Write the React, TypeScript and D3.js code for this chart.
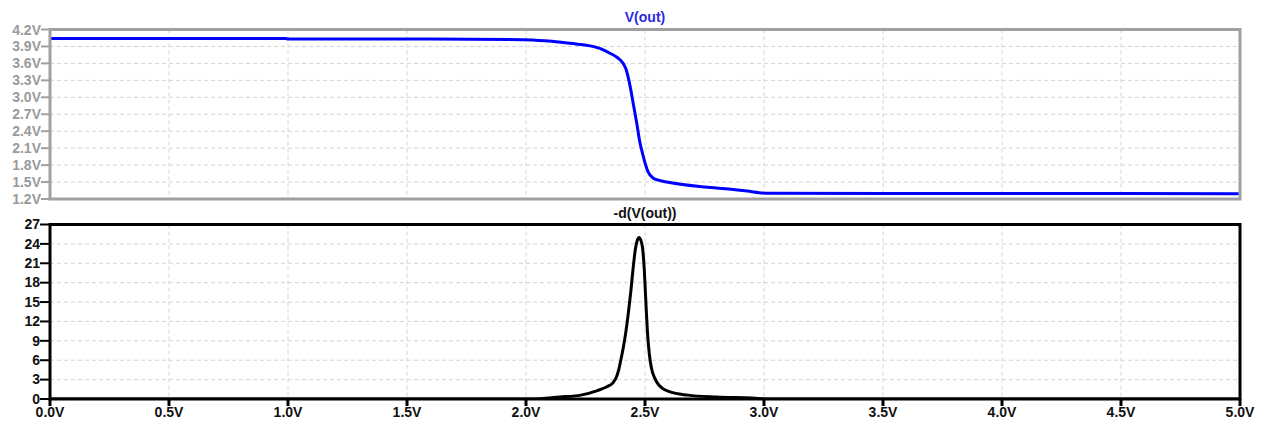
import React from "react";
import * as d3 from "d3";

// ---------- data ----------
const xTicks = [0, 0.5, 1, 1.5, 2, 2.5, 3, 3.5, 4, 4.5, 5];
const xTickLabels = ["0.0V", "0.5V", "1.0V", "1.5V", "2.0V", "2.5V", "3.0V", "3.5V", "4.0V", "4.5V", "5.0V"];

const topTicks = [1.2, 1.5, 1.8, 2.1, 2.4, 2.7, 3.0, 3.3, 3.6, 3.9, 4.2];
const topTickLabels = ["1.2V", "1.5V", "1.8V", "2.1V", "2.4V", "2.7V", "3.0V", "3.3V", "3.6V", "3.9V", "4.2V"];

const botTicks = [0, 3, 6, 9, 12, 15, 18, 21, 24, 27];
const botTickLabels = ["0", "3", "6", "9", "12", "15", "18", "21", "24", "27"];

// V(out) vs Vin
const voutVin = [0, 0.99, 1.0, 1.6, 1.99, 2.08, 2.155, 2.22, 2.269, 2.32, 2.353, 2.385, 2.408, 2.42, 2.429, 2.44, 2.45, 2.465, 2.479, 2.49, 2.5, 2.513, 2.534, 2.56, 2.592, 2.65, 2.73, 2.8, 2.87, 2.93, 2.98, 3.03, 4.0, 5.0];
const voutVal = [4.04, 4.04, 4.032, 4.03, 4.02, 4.0, 3.97, 3.94, 3.91, 3.85, 3.78, 3.70, 3.60, 3.50, 3.36, 3.14, 2.90, 2.55, 2.19, 2.0, 1.84, 1.68, 1.57, 1.53, 1.50, 1.46, 1.42, 1.395, 1.37, 1.34, 1.31, 1.30, 1.298, 1.295];

// -d(V(out)) vs Vin
const derivVin = [0, 2.0, 2.06, 2.14, 2.23, 2.30, 2.34, 2.365, 2.38, 2.39, 2.40, 2.41, 2.42, 2.43, 2.44, 2.45, 2.46, 2.468, 2.475, 2.482, 2.49, 2.497, 2.503, 2.51, 2.518, 2.527, 2.54, 2.555, 2.575, 2.605, 2.68, 2.8, 2.95, 3.02, 5.0];
const derivVal = [0, 0, 0.05, 0.3, 0.6, 1.3, 1.9, 2.5, 3.4, 4.6, 6.3, 8.2, 10.5, 13.3, 16.5, 20.2, 23.3, 24.6, 25, 24.6, 23.3, 20, 15.5, 10.5, 7, 4.8, 3.3, 2.3, 1.6, 1.1, 0.6, 0.3, 0.15, 0, 0];

// ---------- layout ----------
const W = 1263;
const H = 425;
const left = 50;
const right = 1240;
const topY0 = 29.5;
const topY1 = 199;
const botY0 = 224.5;
const botY1 = 399;

const FONT = "'Liberation Sans', Arial, sans-serif";
const GRAY = "#a0a0a0";
const GRAY_TEXT = "#9a9a9a";
const GRID = "#d4d4d4";

export default function App() {
  const x = d3.scaleLinear().domain([0, 5]).range([left, right]);
  const yTop = d3.scaleLinear().domain([1.2, 4.2]).range([topY1, topY0]);
  const yBot = d3.scaleLinear().domain([0, 27]).range([botY1, botY0]);

  const voutData = voutVin.map((v, i) => [v, voutVal[i]] as [number, number]);
  const derivData = derivVin.map((v, i) => [v, derivVal[i]] as [number, number]);

  const lineTop = d3
    .line<[number, number]>()
    .x((d) => x(d[0]))
    .y((d) => yTop(d[1]))
    .curve(d3.curveMonotoneX);
  const lineBot = d3
    .line<[number, number]>()
    .x((d) => x(d[0]))
    .y((d) => yBot(d[1]))
    .curve(d3.curveMonotoneX);

  return (
    <svg
      width={W}
      height={H}
      style={{ position: "absolute", left: 0, top: 0, background: "#fff" }}
      fontFamily={FONT}
    >
      <defs>
        <clipPath id="clipTop">
          <rect x={left} y={topY0} width={right - left} height={topY1 - topY0} />
        </clipPath>
        <clipPath id="clipBot">
          <rect x={left} y={botY0} width={right - left} height={botY1 - botY0} />
        </clipPath>
      </defs>

      {/* ---------- top pane ---------- */}
      <g>
        {xTicks.slice(1, -1).map((t) => (
          <line key={"tvg" + t} x1={x(t)} x2={x(t)} y1={topY0} y2={topY1} stroke={GRID} strokeDasharray="4,3" />
        ))}
        {topTicks.slice(1, -1).map((t) => (
          <line key={"thg" + t} x1={left} x2={right} y1={yTop(t)} y2={yTop(t)} stroke={GRID} strokeDasharray="4,3" />
        ))}
        <path d={lineTop(voutData) || ""} fill="none" stroke="#0000ff" strokeWidth={3} clipPath="url(#clipTop)" />
        <rect x={left} y={topY0} width={right - left} height={topY1 - topY0} fill="none" stroke={GRAY} strokeWidth={3} />
        {topTicks.map((t, i) => (
          <g key={"tt" + t}>
            <line x1={left - 9} x2={left} y1={yTop(t)} y2={yTop(t)} stroke={GRAY} strokeWidth={2} />
            <text x={left - 9} y={yTop(t)} dy="0.36em" textAnchor="end" fontSize={14} fontWeight="bold" fill={GRAY_TEXT}>
              {topTickLabels[i]}
            </text>
          </g>
        ))}
        <text x={645} y={22} textAnchor="middle" fontSize={14} fontWeight="bold" fill="#2a2ae0">
          V(out)
        </text>
      </g>

      {/* ---------- bottom pane ---------- */}
      <g>
        {xTicks.slice(1, -1).map((t) => (
          <line key={"bvg" + t} x1={x(t)} x2={x(t)} y1={botY0} y2={botY1} stroke={GRID} strokeDasharray="4,3" />
        ))}
        {botTicks.slice(1, -1).map((t) => (
          <line key={"bhg" + t} x1={left} x2={right} y1={yBot(t)} y2={yBot(t)} stroke={GRID} strokeDasharray="4,3" />
        ))}
        <path d={lineBot(derivData) || ""} fill="none" stroke="#000" strokeWidth={3} clipPath="url(#clipBot)" />
        <rect x={left} y={botY0} width={right - left} height={botY1 - botY0} fill="none" stroke="#000" strokeWidth={3} />
        {botTicks.map((t, i) => (
          <g key={"bt" + t}>
            <line x1={left - 10} x2={left} y1={yBot(t)} y2={yBot(t)} stroke="#000" strokeWidth={2} />
            <text x={left - 10} y={yBot(t)} dy="0.34em" textAnchor="end" fontSize={14} fontWeight="bold" fill="#111">
              {botTickLabels[i]}
            </text>
          </g>
        ))}
        {xTicks.map((t, i) => (
          <g key={"xt" + t}>
            <line x1={x(t)} x2={x(t)} y1={botY1} y2={botY1 + 7} stroke="#000" strokeWidth={3} />
            <text x={x(t)} y={botY1 + 18} textAnchor="middle" fontSize={14} fontWeight="bold" fill="#111">
              {xTickLabels[i]}
            </text>
          </g>
        ))}
        <text x={645} y={218} textAnchor="middle" fontSize={14} fontWeight="bold" fill="#111">
          -d(V(out))
        </text>
      </g>
    </svg>
  );
}
